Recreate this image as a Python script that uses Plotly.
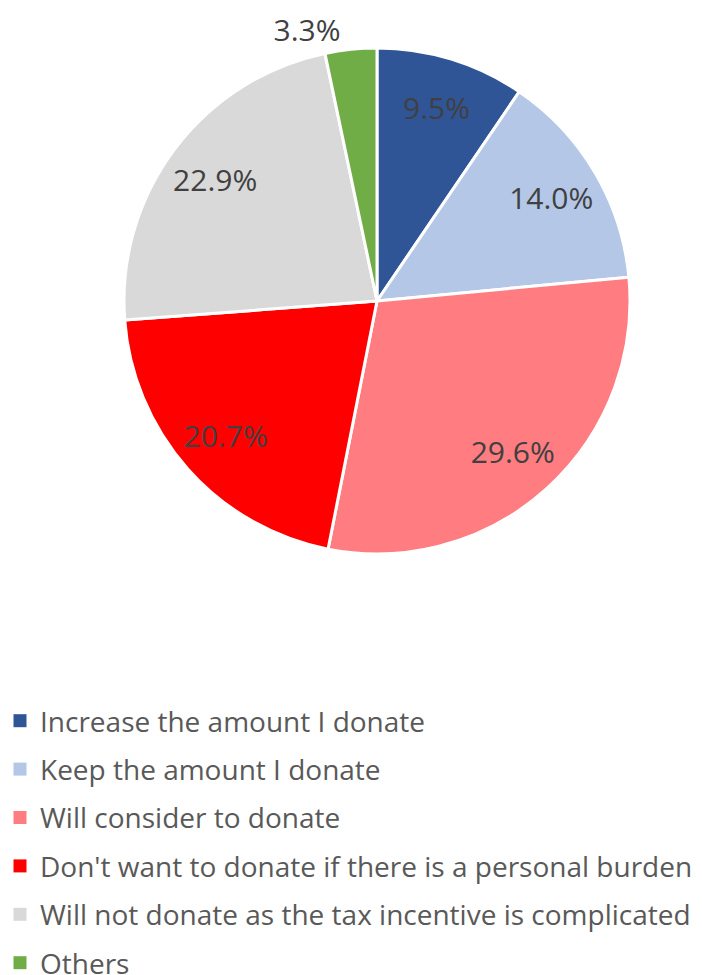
import plotly.graph_objects as go

# Survey answers and their shares (%)
labels = [
    "Increase the amount I donate",
    "Keep the amount I donate",
    "Will consider to donate",
    "Don't want to donate if there is a personal burden",
    "Will not donate as the tax incentive is complicated",
    "Others",
]
values = [9.5, 14.0, 29.6, 20.7, 22.9, 3.3]
colors = ["#2F5597", "#B4C7E7", "#FF7C80", "#FF0000", "#D9D9D9", "#70AD47"]
outside = [False, False, False, False, False, True]

W, H = 702, 975
cx, cy, r = 369, 293, 253
# tall domain leaves room above the pie for the outside label
dom = dict(x=[(cx - r) / W, (cx + r) / W], y=[1 - (2 * cy) / H, 1.0])

fig = go.Figure()

# the coloured pie, only the small slice gets its label outside
fig.add_trace(go.Pie(
    labels=labels,
    values=values,
    sort=False,
    direction="clockwise",
    rotation=0,
    marker=dict(colors=colors, line=dict(color="white", width=3)),
    texttemplate="%{value:.1f}%",
    textposition=["outside" if o else "none" for o in outside],
    textfont=dict(family="Open Sans", size=30, color="#404040"),
    hoverinfo="label+value",
    domain=dom,
    showlegend=False,
))

# transparent ring on top to push the inside labels outward like Excel
fig.add_trace(go.Pie(
    labels=labels,
    values=values,
    sort=False,
    direction="clockwise",
    rotation=0,
    hole=0.6,
    marker=dict(colors=["rgba(0,0,0,0)"] * len(values), line=dict(width=0)),
    texttemplate="%{value:.1f}%",
    textposition=["none" if o else "inside" for o in outside],
    insidetextorientation="horizontal",
    textfont=dict(family="Open Sans", size=30, color="#404040"),
    hoverinfo="skip",
    domain=dom,
    showlegend=False,
))

# legend entries, one per answer so the row spacing can be set
for lab, col in zip(labels, colors):
    fig.add_trace(go.Scatter(
        x=[None], y=[None], mode="markers", name=lab, legendgroup=lab,
        marker=dict(symbol="square", size=13, color=col),
    ))

fig.update_layout(
    width=W,
    height=H,
    margin=dict(l=0, r=0, t=0, b=0, autoexpand=False),
    paper_bgcolor="white",
    plot_bgcolor="white",
    font=dict(family="Open Sans", color="#595959"),
    xaxis=dict(visible=False),
    yaxis=dict(visible=False),
    legend=dict(
        x=-8 / W, y=1 - 688 / H, xanchor="left", yanchor="top",
        font=dict(size=28, color="#595959"),
        tracegroupgap=9,
        itemwidth=30,
    ),
)

fig.write_html("out.html")
